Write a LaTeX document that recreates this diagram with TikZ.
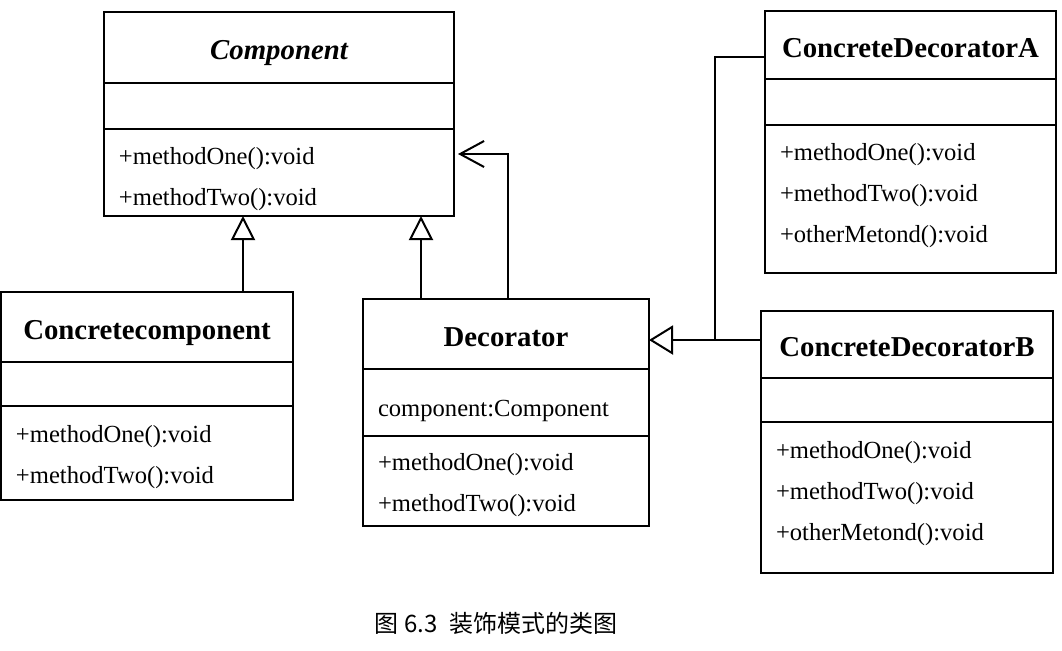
\documentclass[tikz,border=0pt]{standalone}
\usepackage{fontspec}
\setmainfont{Liberation Serif}
\newfontfamily\cjk{Noto Sans CJK SC}
\usetikzlibrary{arrows.meta}

\tikzset{
  classname/.style={draw, anchor=north west, inner sep=0pt, outer sep=0pt, align=center,
    text height=12pt, text depth=0pt, font=\fontsize{14.4}{16}\selectfont\bfseries},
  members/.style={draw, anchor=north west, inner xsep=7.5pt, inner ysep=0pt, outer sep=0pt, align=left,
    text height=12.5pt, font=\fontsize{12.3}{20.5}\selectfont},
  gen/.style={-{Triangle[open,length=12pt,width=#1]}},
  gen/.default=12pt,
  assoc/.style={-{Straight Barb[length=12pt,width=13pt]}, shorten >=2pt},
}

\begin{document}
\begin{tikzpicture}[x=0.5pt, y=-0.5pt, line width=1pt]

    \useasboundingbox (0,0) rectangle (1062,650);

    % Component
    \node[classname, minimum width=175pt, minimum height=35.5pt] (comp) at (104,12) {\itshape Component};
    \node[members, text width=160pt, minimum height=23pt] (comp-a) at (comp.south west) {};
    \node[members, text width=160pt, minimum height=43.5pt, text height=15pt] (comp-m) at (comp-a.south west)
      {+methodOne():void\\+methodTwo():void};

    % Concretecomponent
    \node[classname, minimum width=146pt, minimum height=35pt] (ccomp) at (1,292) {Concretecomponent};
    \node[members, text width=131pt, minimum height=22pt] (ccomp-a) at (ccomp.south west) {};
    \node[members, text width=131pt, minimum height=47pt] (ccomp-m) at (ccomp-a.south west)
      {+methodOne():void\\+methodTwo():void};

    % Decorator
    \node[classname, minimum width=143pt, minimum height=35pt] (dec) at (363,299) {Decorator};
    \node[members, text width=128pt, minimum height=33.5pt, text height=13.5pt, text depth=0pt] (dec-a)
      at (dec.south west) {component:Component};
    \node[members, text width=128pt, minimum height=45pt] (dec-m) at (dec-a.south west)
      {+methodOne():void\\+methodTwo():void};

    % ConcreteDecoratorA
    \node[classname, minimum width=145.5pt, minimum height=34pt] (cda) at (765,11) {ConcreteDecoratorA};
    \node[members, text width=130.5pt, minimum height=23pt] (cda-a) at (cda.south west) {};
    \node[members, text width=130.5pt, minimum height=74pt, text depth=51pt] (cda-m) at (cda-a.south west)
      {+methodOne():void\\+methodTwo():void\\+otherMetond():void};

    % ConcreteDecoratorB
    \node[classname, minimum width=146pt, minimum height=33.5pt] (cdb) at (761,311) {ConcreteDecoratorB};
    \node[members, text width=131pt, minimum height=22pt] (cdb-a) at (cdb.south west) {};
    \node[members, text width=131pt, minimum height=75.5pt, text depth=52pt] (cdb-m) at (cdb-a.south west)
      {+methodOne():void\\+methodTwo():void\\+otherMetond():void};

    % Inheritance
    \draw[gen] (ccomp.north -| 243,0) -- (comp-m.south -| 243,0);
    \draw[gen] (dec.north -| 421,0) -- (comp-m.south -| 421,0);

    % Association
    \draw[assoc] (dec.north -| 508,0) |- (comp-m.east |- 0,154);

    % Decorators
    \coordinate (jn) at (715,340);
    \draw[gen=14.5pt] (jn) -- (dec.east |- jn);
    \draw (cdb.west |- jn) -- (jn);
    \draw (cda.west |- 0,57) -| (jn);

    % Caption
    \node[font=\cjk\fontsize{12}{14}\selectfont] (caption) at (496,623) {图 6.3\hspace{6pt}装饰模式的类图};

\end{tikzpicture}
\end{document}
